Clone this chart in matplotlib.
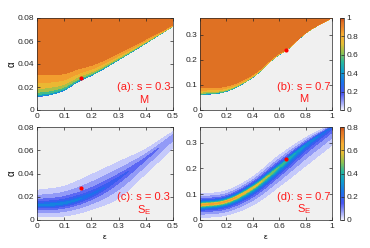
import numpy as np
import matplotlib.pyplot as plt
from matplotlib.colors import LinearSegmentedColormap, Normalize
from matplotlib.cm import ScalarMappable

plt.rcParams['font.family'] = ['Liberation Sans', 'DejaVu Sans']
plt.rcParams['font.size'] = 6

# ---- data ----
# (a) M, s = 0.3 : lower edge of the M region and width of the transition layer
eps_a = [0, 0.05, 0.1, 0.15, 0.2, 0.3, 0.4, 0.5]
edge_a = [0.0116, 0.0133, 0.0172, 0.0245, 0.030, 0.0435, 0.058, 0.0727]
width_a = [0.029, 0.027, 0.022, 0.017, 0.0135, 0.009, 0.0055, 0.002]

# (b) M, s = 0.7
eps_b = [0, 0.2, 0.4, 0.6, 0.65, 0.8, 1.0]
edge_b = [0.0598, 0.074, 0.130, 0.220, 0.236, 0.305, 0.366]
width_b = [0.045, 0.032, 0.017, 0.009, 0.007, 0.004, 0.002]

# (c) S_E, s = 0.3 : ridge, peak value, top / bottom of the outer band
eps_c = [0, 0.1, 0.2, 0.3, 0.4, 0.5]
ridge_c = [0.0125, 0.0145, 0.022, 0.036, 0.053, 0.072]
peak_c = [0.28, 0.28, 0.23, 0.17, 0.12, 0.08]
top_c = [0.0255, 0.029, 0.039, 0.050, 0.061, 0.076]
bot_c = [0.003, 0.0035, 0.009, 0.019, 0.040, 0.062]

# (d) S_E, s = 0.7
eps_d = [0, 0.2, 0.4, 0.6, 0.8, 1.0]
ridge_d = [0.058, 0.072, 0.125, 0.205, 0.29, 0.36]
peak_d = [0.70, 0.68, 0.60, 0.45, 0.30, 0.20]
top_d = [0.101, 0.113, 0.167, 0.25, 0.318, 0.37]
bot_d = [0.009, 0.019, 0.058, 0.13, 0.21, 0.29]

points = {'a': (0.16, 0.0275), 'b': (0.65, 0.238), 'c': (0.16, 0.0275), 'd': (0.65, 0.238)}
labels = {'a': '(a): s = 0.3', 'b': '(b): s = 0.7', 'c': '(c): s = 0.3', 'd': '(d): s = 0.7'}
M_levels = np.arange(0.0, 1.01, 0.1)
S_levels = [0.02, 0.05, 0.1, 0.15, 0.2, 0.25, 0.3, 0.35, 0.4, 0.45, 0.5, 0.55, 0.6, 0.65, 0.7, 0.75, 0.8]

cmap = LinearSegmentedColormap.from_list('pm', [
    (0.00, (0.95, 0.95, 1.00)),
    (0.08, (0.62, 0.65, 0.97)),
    (0.18, (0.28, 0.33, 0.95)),
    (0.30, (0.10, 0.45, 0.92)),
    (0.42, (0.05, 0.62, 0.80)),
    (0.52, (0.15, 0.72, 0.62)),
    (0.62, (0.55, 0.76, 0.32)),
    (0.72, (0.90, 0.74, 0.20)),
    (0.82, (0.97, 0.68, 0.20)),
    (0.90, (0.92, 0.52, 0.16)),
    (0.95, (0.88, 0.45, 0.14)),
    (1.00, (0.80, 0.30, 0.08)),
])


def smooth(x, xp, fp):
    # piecewise cubic hermite through the read points
    xp = np.asarray(xp, float)
    fp = np.asarray(fp, float)
    h = np.diff(xp)
    d = np.diff(fp) / h
    m = np.empty_like(fp)
    m[1:-1] = (d[:-1] * h[1:] + d[1:] * h[:-1]) / (h[:-1] + h[1:])
    m[0], m[-1] = d[0], d[-1]
    i = np.clip(np.searchsorted(xp, x) - 1, 0, len(h) - 1)
    t = (x - xp[i]) / h[i]
    return ((2 * t**3 - 3 * t**2 + 1) * fp[i] + (t**3 - 2 * t**2 + t) * h[i] * m[i]
            + (-2 * t**3 + 3 * t**2) * fp[i + 1] + (t**3 - t**2) * h[i] * m[i + 1])


def m_field(E, A, e, edge, width):
    b = smooth(E, e, edge)
    w = np.maximum(smooth(E, e, width), 1e-4)
    d = np.clip((A - b) / w, 0, 1)
    return np.ma.masked_where(A < b, d ** 0.25)


def s_field(E, A, e, ridge, peak, top, bot, t=0.02):
    r = smooth(E, e, ridge)
    p = smooth(E, e, peak)
    half = np.where(A > r, smooth(E, e, top) - r, r - smooth(E, e, bot))
    x = np.abs(A - r) / np.maximum(half, 1e-4)
    return p * (t / p) ** x


fig = plt.figure(figsize=(3.7, 2.48), dpi=100)
W, H = 370, 248


def box(x0, y0, x1, y1):
    return [x0 / W, 1 - y1 / H, (x1 - x0) / W, (y1 - y0) / H]


axes = {
    'a': fig.add_axes(box(37, 18, 173, 110)),
    'b': fig.add_axes(box(200, 18, 332, 110)),
    'c': fig.add_axes(box(37, 127, 173, 220)),
    'd': fig.add_axes(box(200, 127, 332, 220)),
}
cax_top = fig.add_axes(box(339.5, 18, 343.5, 110))
cax_bot = fig.add_axes(box(339.5, 127, 343.5, 220))

EL, AL = np.meshgrid(np.linspace(0, 0.5, 600), np.linspace(0, 0.08, 600))
ER, AR = np.meshgrid(np.linspace(0, 1, 600), np.linspace(0, 0.37, 600))

normM = Normalize(0, 1)
normS = Normalize(0, 0.8)

axes['a'].contourf(EL, AL, m_field(EL, AL, eps_a, edge_a, width_a), levels=M_levels, cmap=cmap, norm=normM)
axes['b'].contourf(ER, AR, m_field(ER, AR, eps_b, edge_b, width_b), levels=M_levels, cmap=cmap, norm=normM)
axes['c'].contourf(EL, AL, s_field(EL, AL, eps_c, ridge_c, peak_c, top_c, bot_c), levels=S_levels, cmap=cmap, norm=normS)
axes['d'].contourf(ER, AR, s_field(ER, AR, eps_d, ridge_d, peak_d, top_d, bot_d), levels=S_levels, cmap=cmap, norm=normS)

for key, ax in axes.items():
    ax.set_facecolor('#f0f0f0')
    ax.plot(*points[key], 'o', color='red', markersize=3, markeredgewidth=0)
    if key in 'ac':
        ax.set_xlim(0, 0.5)
        ax.set_ylim(0, 0.08)
        ax.set_xticks([0, 0.1, 0.2, 0.3, 0.4, 0.5])
        ax.set_xticklabels(['0', '0.1', '0.2', '0.3', '0.4', '0.5'])
        ax.set_yticks([0, 0.02, 0.04, 0.06, 0.08])
        ax.set_yticklabels(['0', '0.02', '0.04', '0.06', '0.08'])
        ax.set_ylabel('α', fontsize=7, labelpad=0.5)
        tx = 0.393
        ty = (0.020, 0.0085)
    else:
        ax.set_xlim(0, 1)
        ax.set_ylim(0, 0.366 if key == 'b' else 0.36)
        ax.set_xticks([0, 0.2, 0.4, 0.6, 0.8, 1])
        ax.set_xticklabels(['0', '0.2', '0.4', '0.6', '0.8', '1'])
        ax.set_yticks([0, 0.1, 0.2, 0.3])
        ax.set_yticklabels(['0', '0.1', '0.2', '0.3'])
        tx = 0.786
        ty = (0.090, 0.042)
    if key in 'cd':
        ax.set_xlabel('ε', fontsize=6, labelpad=3)
    sub = 'M' if key in 'ab' else r'$\mathregular{S_E}$'
    ax.text(tx, ty[0], labels[key], color='#ff1a1a', fontsize=8, ha='center', va='center')
    ax.text(tx, ty[1], sub, color='#ff1a1a', fontsize=8, ha='center', va='center')
    ax.tick_params(direction='in', length=2, width=0.5, top=True, right=True,
                   labelsize=6, colors='#262626', pad=2)
    for sp in ax.spines.values():
        sp.set_linewidth(0.5)
        sp.set_color('#262626')

for cax, norm, ticks, tl in [(cax_top, normM, [0, 0.2, 0.4, 0.6, 0.8, 1], ['0', '0.2', '0.4', '0.6', '0.8', '1']),
                             (cax_bot, normS, [0, 0.2, 0.4, 0.6, 0.8], ['0', '0.2', '0.4', '0.6', '0.8'])]:
    cb = fig.colorbar(ScalarMappable(norm=norm, cmap=cmap), cax=cax)
    cb.set_ticks(ticks)
    cb.set_ticklabels(tl)
    cb.outline.set_linewidth(0.5)
    cb.outline.set_edgecolor('#262626')
    cax.tick_params(direction='in', length=2, width=0.5, labelsize=6, colors='#262626', pad=2)

fig.savefig('out.png', dpi=100)
